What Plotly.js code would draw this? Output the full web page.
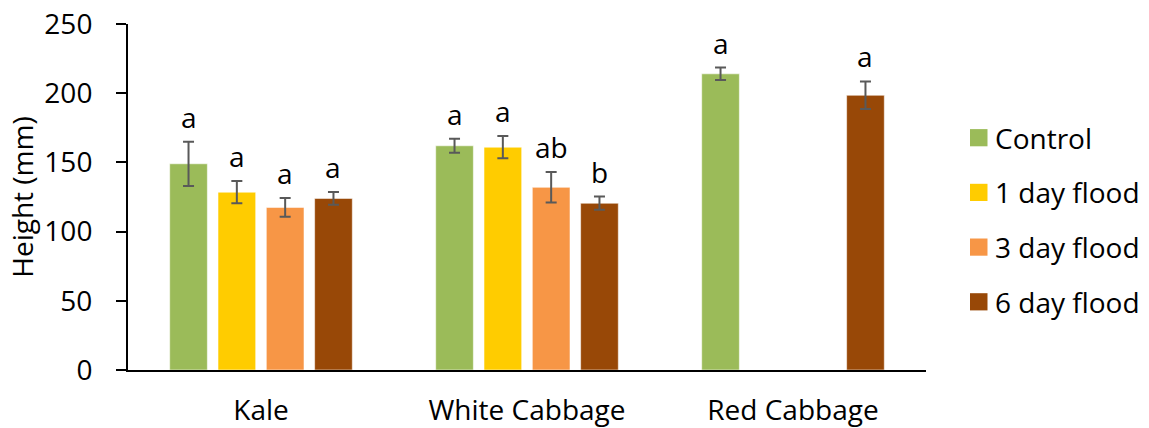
<!DOCTYPE html>
<html>
<head>
<meta charset="utf-8">
<script src="https://cdn.plot.ly/plotly-3.0.1.min.js"></script>
<style>
  html, body { margin: 0; padding: 0; background: #ffffff; }
  #chart { width: 1149px; height: 428px; }
</style>
</head>
<body>
<div id="chart"></div>
<script>
// Plant height by crop and flooding treatment
const crops = ['Kale', 'White Cabbage', 'Red Cabbage'];
const treatments = ['Control', '1 day flood', '3 day flood', '6 day flood'];
const colors = ['#9BBB59', '#FFCC00', '#F79646', '#984807'];

// Mean height (mm) per treatment, one entry per crop
const controlMean = [149, 162, 214];
const day1Mean    = [128.5, 161, null];
const day3Mean    = [117.5, 132, null];
const day6Mean    = [124, 120.5, 198.5];

// Error bar half-lengths (mm)
const controlErr = [16, 5, 4.5];
const day1Err    = [8, 8, null];
const day3Err    = [6.8, 11, null];
const day6Err    = [4.6, 4.8, 10];

// Significance letters
const controlLetters = ['a', 'a', 'a'];
const day1Letters    = ['a', 'a', ''];
const day3Letters    = ['a', 'ab', ''];
const day6Letters    = ['a', 'b', 'a'];

const means = [controlMean, day1Mean, day3Mean, day6Mean];
const errs = [controlErr, day1Err, day3Err, day6Err];
const letters = [controlLetters, day1Letters, day3Letters, day6Letters];

const FONT = '"Open Sans", "Liberation Sans", sans-serif';
const TXT = 28;
const bargap = 0.2735;
const bargroupgap = 0.22;
const slot = (1 - bargap) / treatments.length;

const traces = treatments.map((name, i) => ({
  type: 'bar',
  name: name,
  x: crops,
  y: means[i],
  marker: { color: colors[i], line: { color: 'rgba(255,255,255,0.55)', width: 1 } },
  error_y: {
    type: 'data',
    array: errs[i],
    visible: true,
    color: '#595959',
    thickness: 2,
    width: 5.5
  },
  showlegend: false,
  hoverinfo: 'skip'
}));

// Letters above each error bar
const annotations = [];
treatments.forEach((t, i) => {
  crops.forEach((c, j) => {
    const txt = letters[i][j];
    if (!txt || means[i][j] == null) return;
    annotations.push({
      xref: 'x', yref: 'y',
      x: j + (i - (treatments.length - 1) / 2) * slot,
      y: means[i][j] + errs[i][j],
      text: txt,
      showarrow: false,
      yanchor: 'bottom',
      yshift: 4,
      font: { family: FONT, size: TXT, color: '#000000' }
    });
  });
});

// Legend: square swatches with labels, right of the plot
const W = 1149, H = 428;
const M = { l: 128, r: 223, t: 24, b: 58 };
const pw = W - M.l - M.r, ph = H - M.t - M.b;
const px2x = px => (px - M.l) / pw;
const py2y = py => 1 - (py - M.t) / ph;
const shapes = [];
treatments.forEach((t, i) => {
  const cy = 137.7 + i * 54.7;
  shapes.push({
    type: 'rect', xref: 'paper', yref: 'paper',
    x0: px2x(970), x1: px2x(987.5),
    y0: py2y(cy + 8.6), y1: py2y(cy - 8.6),
    fillcolor: colors[i], line: { width: 0 }
  });
  annotations.push({
    xref: 'paper', yref: 'paper',
    x: px2x(993), y: py2y(cy),
    xanchor: 'left', yanchor: 'middle',
    text: t, showarrow: false,
    font: { family: FONT, size: TXT, color: '#000000' }
  });
});

const layout = {
  width: W, height: H,
  margin: M,
  paper_bgcolor: '#ffffff',
  plot_bgcolor: '#ffffff',
  barmode: 'group',
  bargap: bargap,
  bargroupgap: bargroupgap,
  font: { family: FONT, size: TXT, color: '#000000' },
  xaxis: {
    type: 'category',
    showline: true, linecolor: '#000000', linewidth: 2,
    ticks: '', showgrid: false, zeroline: false,
    ticklabelstandoff: 14,
    tickfont: { family: FONT, size: TXT, color: '#000000' }
  },
  yaxis: {
    range: [0, 250], dtick: 50,
    showline: true, linecolor: '#000000', linewidth: 2,
    ticks: 'outside', ticklen: 10, tickwidth: 2, tickcolor: '#000000',
    showgrid: false, zeroline: false,
    ticklabelstandoff: 18,
    tickfont: { family: FONT, size: TXT, color: '#000000' },
    title: { text: 'Height (mm)', font: { family: FONT, size: TXT, color: '#000000' }, standoff: 3 }
  },
  annotations: annotations,
  shapes: shapes,
  showlegend: false
};

Plotly.newPlot('chart', traces, layout, { displayModeBar: false, staticPlot: true });
</script>
</body>
</html>
